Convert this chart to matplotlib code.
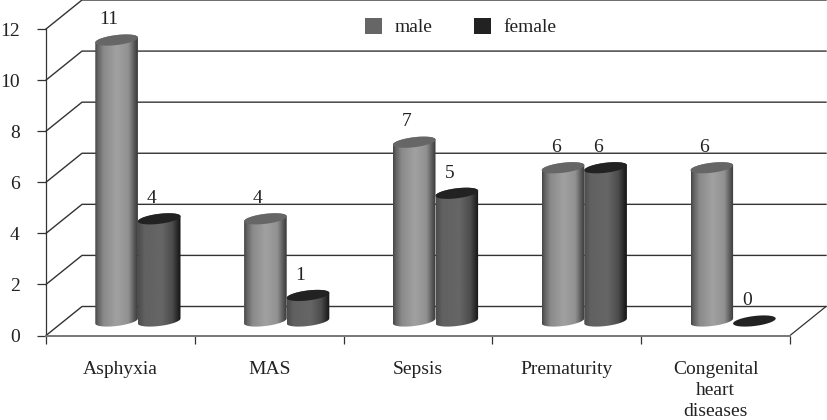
import numpy as np
import matplotlib
matplotlib.use("Agg")
import matplotlib.pyplot as plt
from matplotlib.patches import Polygon, Patch

categories = ["Asphyxia", "MAS", "Sepsis", "Prematurity", "Congenital\nheart\ndiseases"]
male = [11, 4, 7, 6, 6]
female = [4, 1, 5, 6, 0]
y_ticks = [0, 2, 4, 6, 8, 10, 12]

W, H = 827, 420
plt.rcParams["font.family"] = ["Liberation Serif", "DejaVu Serif"]
FS = 14
TXT = "#222222"
LINE = "#333333"

fig = plt.figure(figsize=(W / 100, H / 100), dpi=100)
left, right, bottom_px, top_px = 46, 790, 335.5, 29
ax = fig.add_axes([left / W, 1 - bottom_px / H, (right - left) / W, (bottom_px - top_px) / H])
n = len(categories)
ax.set_xlim(0, n)
ax.set_ylim(0, 12)
px_x = (right - left) / n
px_y = (bottom_px - top_px) / 12
dx, dy = 36 / px_x, 29 / px_y  # wall depth in data units

for s in ["top", "right"]:
    ax.spines[s].set_visible(False)
ax.spines["left"].set_color(LINE)
ax.spines["left"].set_linewidth(0.9)
ax.spines["bottom"].set_color("#777777")
ax.spines["bottom"].set_linewidth(1.4)

ax.set_xticks(np.arange(n + 1))
ax.set_xticklabels([])
ax.set_xticks(np.arange(n) + 0.5, categories, minor=True, fontsize=FS, color=TXT, linespacing=1.32)
ax.tick_params(axis="x", which="major", length=6, width=0.9, color=LINE)
ax.tick_params(axis="x", which="minor", length=0, pad=18)
ax.set_yticks(y_ticks, [str(v) for v in y_ticks], fontsize=FS, color=TXT)
ax.tick_params(axis="y", length=6.5, width=0.9, color=LINE, pad=12.5)

# wall grid lines
for v in y_ticks:
    ax.plot([0, dx, n + dx], [v, v + dy, v + dy], color=LINE, lw=1.0, clip_on=False, zorder=1)
ax.plot([n, n + dx], [0, dy], color=LINE, lw=0.9, clip_on=False, zorder=1)


def shade(stops):
    xs = np.linspace(0, 1, 128)
    pos, vals = zip(*stops)
    return np.interp(xs, pos, vals).reshape(1, -1)


male_shade = shade([(0, .27), (.06, .38), (.2, .54), (.5, .63), (.78, .57), (.92, .34), (1, .22)])
female_shade = shade([(0, .30), (.15, .38), (.55, .40), (.8, .30), (.93, .15), (1, .08)])

half_w = 21.3 / px_x
half_h = 5.0 / px_y
tilt = 2.5 / px_y
label_shift = 7.5 / px_x


def cylinder(cx, value, shading, cap, z):
    base = dy / 2
    t = np.linspace(0, 2 * np.pi, 100)
    if value > 0:
        lower = np.linspace(np.pi, 2 * np.pi, 50)
        upper = np.linspace(0, np.pi, 50)
        xs = np.r_[cx + half_w * np.cos(lower), cx + half_w * np.cos(upper)]
        ys = np.r_[base + half_h * np.sin(lower) + tilt * np.cos(lower),
                   base + value + half_h * np.sin(upper) + tilt * np.cos(upper)]
        im = ax.imshow(shading, cmap="gray", vmin=0, vmax=1, aspect="auto", zorder=z,
                       extent=[cx - half_w, cx + half_w, base - 1, base + value + 1],
                       interpolation="bilinear")
        clip = Polygon(np.c_[xs, ys], closed=True, transform=ax.transData)
        im.set_clip_path(clip)
        im.set_clip_on(True)
    ax.add_patch(Polygon(np.c_[cx + half_w * np.cos(t),
                               base + value + half_h * np.sin(t) + tilt * np.cos(t)],
                         closed=True, fc=cap, ec="none", zorder=z + 0.1, clip_on=False))
    ax.text(cx - label_shift, base + value + 0.46, str(value), ha="center", va="bottom",
            fontsize=FS, color=TXT, zorder=10)


for i, (m, f) in enumerate(zip(male, female)):
    c = i + 0.5 + dx / 2 - 0.5 / px_x
    cylinder(c - half_w, m, male_shade, "#666666", 3)
    cylinder(c + half_w, f, female_shade, "#222222", 4)

ax.set_xlim(0, n)
ax.set_ylim(0, 12)

handles = [Patch(fc="#666666", label="male"), Patch(fc="#222222", label="female")]
fig.legend(handles=handles, loc="upper left", bbox_to_anchor=(357 / W, 1 - 10 / H), ncol=2,
           frameon=False, fontsize=FS, labelcolor=TXT, handlelength=0.88, handleheight=0.88,
           handletextpad=0.67, columnspacing=2.1, borderaxespad=0)

fig.savefig("out.png", dpi=100)
